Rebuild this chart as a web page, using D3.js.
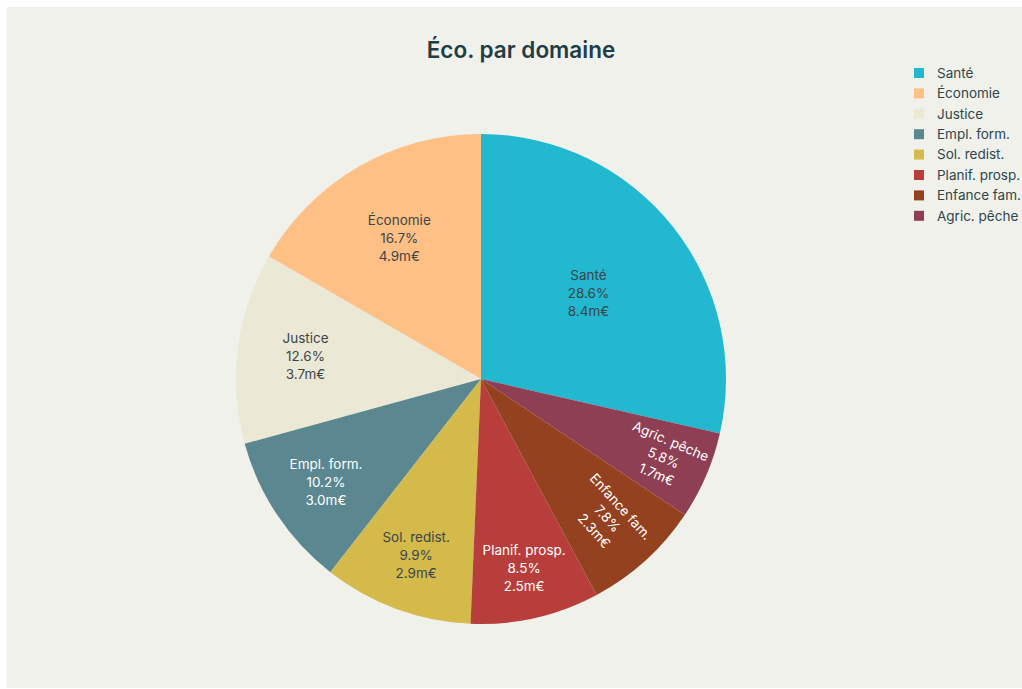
<!DOCTYPE html>
<html>
<head>
<meta charset="utf-8">
<script src="https://cdn.jsdelivr.net/npm/d3@7"></script>
<style>
  html, body { margin: 0; padding: 0; background: #ffffff; }
  svg { display: block; }
</style>
</head>
<body>
<svg id="chart" width="1022" height="689"></svg>
<script>
// Spending by domain, in millions of euros
const categories = ["Santé", "Économie", "Justice", "Empl. form.", "Sol. redist.", "Planif. prosp.", "Enfance fam.", "Agric. pêche"];
const amounts = [8.4, 4.9, 3.7, 3.0, 2.9, 2.5, 2.3, 1.7];
const sliceColors = ["#22b8cf", "#ffc086", "#ebe9d6", "#5b8790", "#d4b94b", "#b83e3b", "#93411f", "#8e3f53"];
// clockwise order of the slices, starting at 12 o'clock
const sliceOrder = ["Santé", "Agric. pêche", "Enfance fam.", "Planif. prosp.", "Sol. redist.", "Empl. form.", "Justice", "Économie"];
const titleText = "Éco. par domaine";

const W = 1022, H = 689;
const FONT = "Inter, 'Liberation Sans', Arial, sans-serif";
const svg = d3.select("#chart");

// panel background
svg.append("rect").attr("x", 7).attr("y", 7).attr("width", W - 7).attr("height", H - 8)
  .attr("fill", "#f1f1eb");

svg.append("text")
  .attr("x", 521).attr("y", 58)
  .attr("text-anchor", "middle")
  .attr("font-family", FONT).attr("font-size", 22.5).attr("font-weight", 600)
  .attr("fill", "#1e3d45")
  .text(titleText);

const data = categories.map((c, i) => ({ cat: c, value: amounts[i], color: sliceColors[i] }));
const total = d3.sum(amounts);

const cx = 481, cy = 379, R = 245;
const pie = d3.pie()
  .value(d => d.value)
  .sort((a, b) => sliceOrder.indexOf(a.cat) - sliceOrder.indexOf(b.cat));
const arcs = pie(data);
const arc = d3.arc().innerRadius(0).outerRadius(R);

const g = svg.append("g").attr("transform", `translate(${cx},${cy})`);
g.selectAll("path.slice").data(arcs).join("path")
  .attr("class", "slice")
  .attr("d", arc)
  .attr("fill", d => d.data.color);

// text colour chosen from slice luminance
function textColor(c) {
  const rgb = d3.rgb(c);
  const lum = 0.299 * rgb.r + 0.587 * rgb.g + 0.114 * rgb.b;
  return lum > 140 ? "#3b4649" : "#ffffff";
}

const TEXTPAD = 3;
function maxHalfSize(a, halfAngle, r) {
  const q = a + 1 / (2 * Math.tan(halfAngle));
  return r * Math.min(1 / (Math.sqrt(q * q + 0.5) + q), 1 / (Math.sqrt(a * a + 0.5) + a));
}
function readable(deg) {
  let d = ((deg % 360) + 360) % 360;
  if (d > 90 && d < 270) d -= 180;
  if (d >= 270) d -= 360;
  return d;
}

const LINE = 18;
const labels = g.selectAll("g.label").data(arcs).join("g").attr("class", "label");
labels.each(function (d) {
  const sel = d3.select(this);
  const t = sel.append("text")
    .attr("text-anchor", "middle")
    .attr("font-family", FONT).attr("font-size", 13.5)
    .attr("fill", textColor(d.data.color));
  const lines = [d.data.cat, (d.value / total * 100).toFixed(1) + "%", d.value.toFixed(1) + "m€"];
  lines.forEach((s, i) => t.append("tspan").attr("x", 0).attr("y", i * LINE).text(s));
  const bb = t.node().getBBox();
  const bw = bb.width, bh = bb.height;
  const bcx = bb.x + bw / 2, bcy = bb.y + bh / 2;

  const half = (d.endAngle - d.startAngle) / 2;
  const mid = (d.startAngle + d.endAngle) / 2;
  const ux = Math.sin(mid), uy = -Math.cos(mid);

  const candidates = [];
  // horizontal text inscribed in the slice
  const sinH = Math.sin(Math.min(half, Math.PI / 2));
  const rIns = sinH / (1 + sinH);
  const horiz = { scale: rIns * R * 2 / Math.hypot(bw, bh), rc: 1 - rIns, rot: 0 };
  let chosen;
  if (horiz.scale >= 1) {
    chosen = horiz;
  } else {
    candidates.push(horiz);
    const rr = R - 2 * TEXTPAD;
    // radial
    let a = bw / bh, s = maxHalfSize(a, half, rr);
    candidates.push({ scale: 2 * s / bh, rc: Math.cos(s / rr) - a * s / rr,
      rot: readable(mid * 180 / Math.PI - 90) });
    // tangential
    a = bh / bw; s = maxHalfSize(a, half, rr);
    candidates.push({ scale: 2 * s / bw, rc: Math.cos(s / rr) - a * s / rr,
      rot: readable(mid * 180 / Math.PI) });
    chosen = candidates.reduce((m, c) => c.scale > m.scale ? c : m, candidates[0]);
  }
  const sc = Math.min(1, chosen.scale);
  const tx = ux * R * chosen.rc, ty = uy * R * chosen.rc;
  t.attr("transform", `translate(${tx},${ty}) rotate(${chosen.rot}) scale(${sc}) translate(${-bcx},${-bcy})`);
});

// legend
const legend = svg.append("g").attr("transform", "translate(914,73)");
const rows = legend.selectAll("g").data(data).join("g")
  .attr("transform", (d, i) => `translate(0,${i * 20.4})`);
rows.append("rect").attr("x", 0).attr("y", -5).attr("width", 10).attr("height", 10)
  .attr("fill", d => d.color);
rows.append("text").attr("x", 23).attr("y", 0).attr("dy", "0.35em")
  .attr("font-family", FONT).attr("font-size", 13.5)
  .attr("fill", "#2c464c")
  .text(d => d.cat);
</script>
</body>
</html>
